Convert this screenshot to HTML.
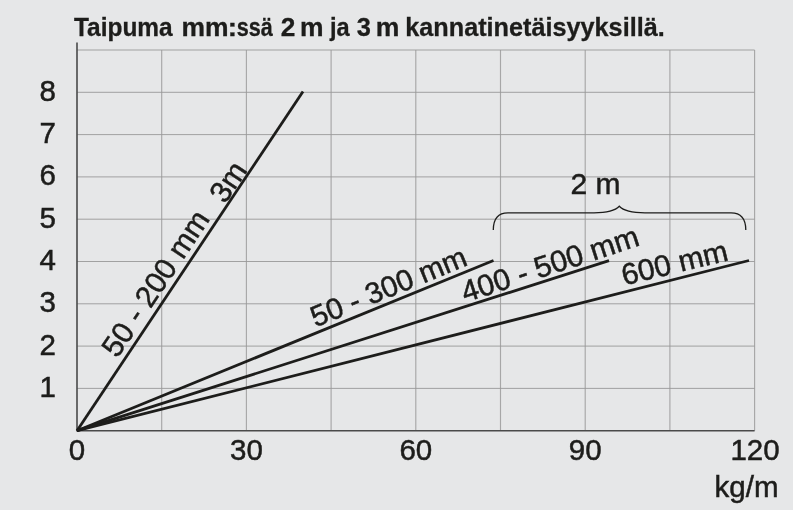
<!DOCTYPE html>
<html><head><meta charset="utf-8">
<style>
html,body{margin:0;padding:0;background:#e6e7e8;}
body{width:793px;height:510px;overflow:hidden;}
svg{display:block;}
text{font-family:"Liberation Sans",sans-serif;fill:#1d1d1b;}
.n text{stroke:#1d1d1b;stroke-width:0.5px;}
</style></head><body>
<svg width="793" height="510" viewBox="0 0 793 510">
<rect width="793" height="510" fill="#e6e7e8"/>
<path d="M161.7 50.0V430.7M246.4 50.0V430.7M331.1 50.0V430.7M415.8 50.0V430.7M500.5 50.0V430.7M585.2 50.0V430.7M669.9 50.0V430.7M754.6 50.0V430.7" stroke="#a7a7a7" stroke-width="1.15" fill="none"/>
<path d="M77.0 50.0H754.6M77.0 92.3H754.6M77.0 134.6H754.6M77.0 176.9H754.6M77.0 219.2H754.6M77.0 261.5H754.6M77.0 303.8H754.6M77.0 346.1H754.6M77.0 388.4H754.6" stroke="#989898" stroke-width="0.9" fill="none"/>
<path d="M77.0 42.5V430.7H754.6" stroke="#4a4a4a" stroke-width="1.6" fill="none"/>
<g stroke="#1d1d1b" stroke-width="2.8" fill="none">
<path d="M77.0 430.7L303 91.5"/>
<path d="M77.0 430.7L493.5 260.5"/>
<path d="M77.0 430.7L609 260.7"/>
<path d="M77.0 430.7L749 260.5"/>
</g>
<path d="M493.3 230C493.3 218 499 212.8 508 212.8H594C607 212.8 615 211 619.3 206.3C623.6 211 632 212.8 645 212.8H731C740 212.8 745.8 218 745.8 230" stroke="#1d1d1b" stroke-width="1.3" fill="none"/>
<g font-size="25.4" font-weight="bold" stroke="#1d1d1b" stroke-width="0.3">
<text x="74.01" y="36.3" textLength="98.70" lengthAdjust="spacingAndGlyphs">Taipuma</text>
<text x="181.53" y="36.3" textLength="47.11" lengthAdjust="spacingAndGlyphs">mm</text>
<text x="227.81" y="36.3" textLength="9.29" lengthAdjust="spacingAndGlyphs">:</text>
<text x="236.63" y="36.3" textLength="36.11" lengthAdjust="spacingAndGlyphs">ssä</text>
<text x="280.77" y="36.3" textLength="14.59" lengthAdjust="spacingAndGlyphs">2</text>
<text x="300.13" y="36.3" textLength="23.52" lengthAdjust="spacingAndGlyphs">m</text>
<text x="329.97" y="36.3" textLength="19.67" lengthAdjust="spacingAndGlyphs">ja</text>
<text x="356.80" y="36.3" textLength="14.13" lengthAdjust="spacingAndGlyphs">3</text>
<text x="375.72" y="36.3" textLength="23.64" lengthAdjust="spacingAndGlyphs">m</text>
<text x="405.26" y="36.3" textLength="259.48" lengthAdjust="spacingAndGlyphs">kannatinetäisyyksillä.</text>
</g>
<g class="n" font-size="29.5" text-anchor="middle">
<text x="47.8" y="100.8">8</text>
<text x="47.8" y="143.1">7</text>
<text x="47.8" y="185.4">6</text>
<text x="47.8" y="227.7">5</text>
<text x="47.8" y="270.0">4</text>
<text x="47.8" y="312.3">3</text>
<text x="47.8" y="354.6">2</text>
<text x="47.8" y="396.9">1</text>
<text x="77.0" y="460.4">0</text>
<text x="246.4" y="460.4">30</text>
<text x="415.8" y="460.4">60</text>
<text x="585.2" y="460.4">90</text>
<text x="755.0" y="460.4">120</text>
<text x="595.6" y="194" font-size="30">2 m</text>
</g>
<g class="n" font-size="29.5">
<text x="778.5" y="497.2" text-anchor="end">kg/m</text>
<text font-size="30" transform="translate(117.2 359.1) rotate(-56.3)">50 - 200 mm</text>
<text font-size="30" transform="translate(225.1 204.8) rotate(-56.3)">3m</text>
<text font-size="29.5" transform="translate(315.6 327.4) rotate(-22.2)">50 - 300 mm</text>
<text font-size="30" transform="translate(465.2 302.6) rotate(-18.1)">400 - 500 mm</text>
<text font-size="30" transform="translate(624.2 285.5) rotate(-13.6)">600 mm</text>
</g>
</svg>
</body></html>
